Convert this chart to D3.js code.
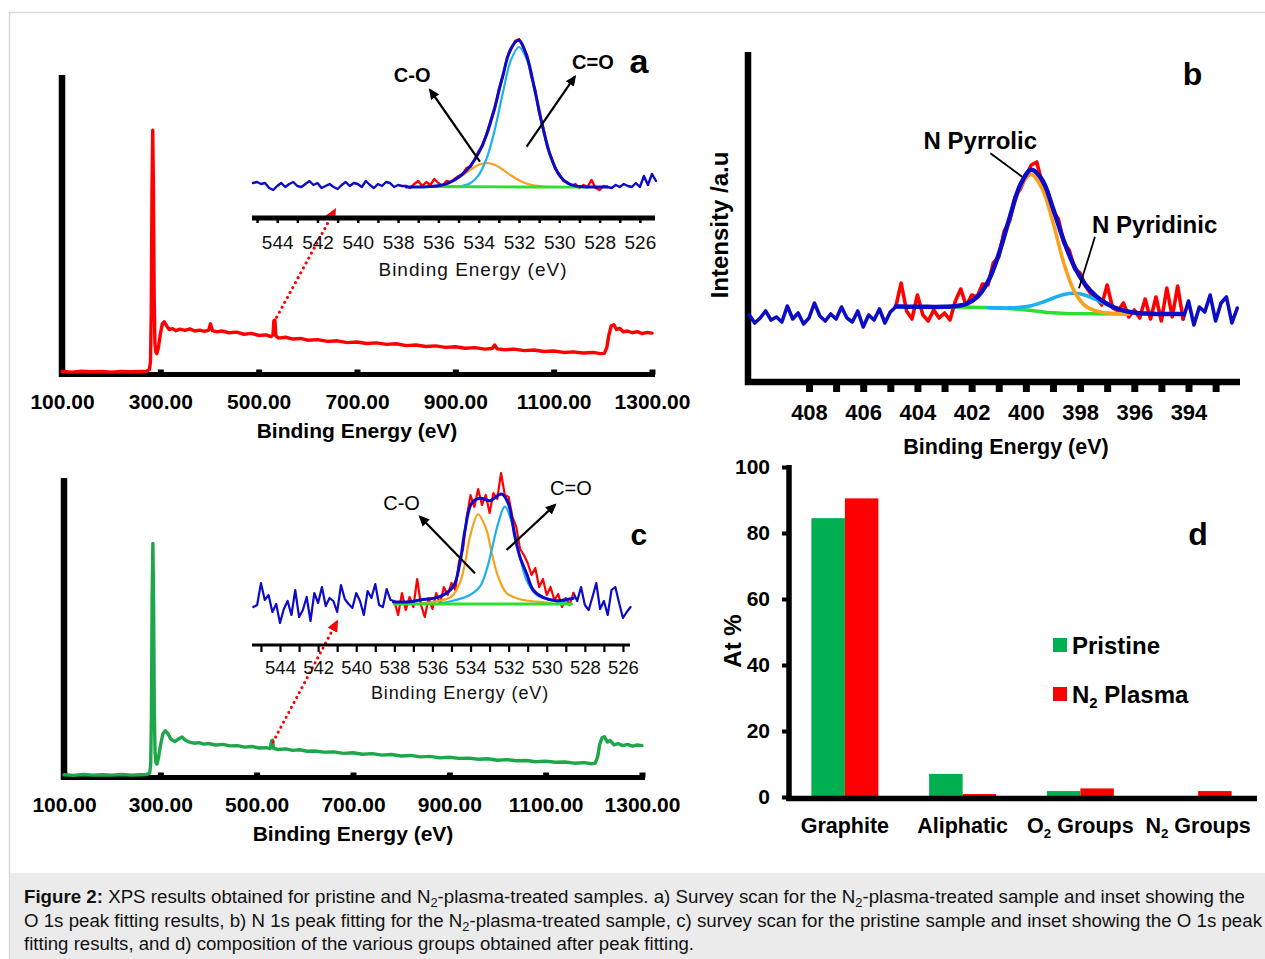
<!DOCTYPE html>
<html><head><meta charset="utf-8">
<script src="https://cdn.jsdelivr.net/npm/d3@7"></script>
<style>body{margin:0;background:#fff}svg{display:block}</style>
</head><body><svg id="fig" width="1265" height="959"></svg>
<script>
// ---------------- DATA ----------------
const surveyTicks = [100,300,500,700,900,1100,1300];
const insetTicks = [544,542,540,538,536,534,532,530,528,526];
const insetMinorTicks = [545,544,543,542,541,540,539,538,537,536,535,534,533,532,531,530,529,528,527,526];
const bTicks = [408,407,406,405,404,403,402,401,400,399,398,397,396,395,394,393];
const bLabels = [408,406,404,402,400,398,396,394];
const dTicks = [0,20,40,60,80,100];

// Panel a: survey scan, N2-plasma sample [eV, intensity]
const surveyA = [[100,0.5],[120,0.3],[140,0.6],[160,0.4],[180,0.5],[200,0.3],[220,0.5],[240,0.4],[260,0.5],[272,0.6],[278,1.2],[280,4],[281.5,20],[283,60],[284.5,81.5],[286,62],[287.5,25],[289,10],[291,7],[293,6.5],[296,8.5],[300,13],[304,16.5],[308,17.2],[313,15.8],[318,14.6],[325,14.9],[332,14.2],[340,14.7],[350,14.3],[360,14.8],[370,14.1],[380,14.4],[390,14.0],[398,14.3],[402,16.5],[406,14.2],[415,13.8],[425,14.1],[440,13.5],[455,13.7],[470,13.0],[485,13.3],[500,12.6],[515,12.8],[525,12.2],[529,12.8],[531,17.5],[533,17.8],[535,12.5],[540,11.7],[555,12.0],[570,11.4],[585,11.6],[600,11.0],[620,11.2],[640,10.6],[660,10.8],[680,10.2],[700,10.4],[720,9.9],[740,10.1],[760,9.6],[780,9.8],[800,9.2],[820,9.4],[840,8.9],[860,9.1],[880,8.6],[900,8.8],[920,8.3],[940,8.5],[960,8.0],[975,8.2],[980,9.4],[985,8.1],[1000,7.8],[1020,8.0],[1040,7.5],[1060,7.7],[1080,7.2],[1100,7.4],[1120,6.9],[1140,7.1],[1160,6.7],[1180,6.9],[1195,6.5],[1203,6.6],[1208,8.5],[1212,12.5],[1217,15.8],[1222,16.2],[1228,14.6],[1234,15.0],[1242,13.8],[1250,14.1],[1260,13.5],[1270,13.9],[1280,13.2],[1290,13.6],[1300,13.4]];

// Panel c: survey scan, pristine sample
const surveyC = [[100,0.4],[120,0.2],[140,0.5],[160,0.3],[180,0.4],[200,0.3],[220,0.5],[240,0.3],[260,0.4],[272,0.5],[278,1.0],[280,4],[281.5,20],[283,60],[284.5,78],[286,58],[287.5,22],[289,8],[291,4.5],[293,4],[296,6],[300,10],[305,14],[310,15.2],[316,14.2],[322,12.3],[330,11.6],[338,12.4],[345,13.1],[352,12.0],[360,11.4],[370,11.0],[380,11.2],[390,10.7],[400,10.9],[415,10.4],[430,10.6],[445,10.1],[460,10.2],[475,9.7],[490,9.9],[505,9.4],[520,9.5],[528,9.2],[531,11.8],[533,12.0],[535,9.3],[545,8.9],[560,9.1],[575,8.6],[590,8.8],[605,8.3],[620,8.4],[640,8.0],[660,8.1],[680,7.6],[700,7.8],[720,7.3],[740,7.5],[760,7.0],[780,7.2],[800,6.7],[820,6.9],[840,6.4],[860,6.6],[880,6.1],[900,6.3],[920,5.9],[940,6.0],[960,5.6],[980,5.8],[1000,5.3],[1020,5.5],[1040,5.1],[1060,5.2],[1080,4.8],[1100,5.0],[1120,4.6],[1140,4.7],[1160,4.3],[1180,4.5],[1195,4.1],[1203,4.3],[1208,6.5],[1212,10.5],[1217,12.8],[1222,13.2],[1228,11.4],[1234,11.9],[1242,10.4],[1250,10.9],[1260,10.2],[1270,10.6],[1280,10.0],[1290,10.4],[1300,10.2]];

// Inset a: O 1s (N2 plasma). Raw counts from 545.2 eV downward in 0.2 eV steps
const rawA_start = 545.2, rawA_step = 0.2, rawA_window = [537.6, 527.6];
const rawA = [34,35,33,34,29,27,31,34,30,33,35,31,30,33,36,32,34,29,31,33,30,28,32,35,31,34,33,30,36,32,29,33,31,35,34,30,32,31,
  31,29,33,36,31,35,32,38,34,31,36,35,38,41,43,49,50,58,66,71,84,97,108,128,140,159,167,176,178,170,162,141,128,104,90,70,60,48,43,36,35,31,33,29,32,30,37,29,27,31,30,
  29,32,30,33,31,30,34,30,41,32,43,36];
const envA = [[537.6,30],[537.2,30],[536.8,30.1],[536.4,30.5],[536.0,31.3],[535.6,33.2],[535.2,37.0],[534.8,42.8],[534.4,51.4],[534.0,64.1],[533.6,82.8],[533.2,109.7],[532.8,141.6],[532.4,168.5],[532.0,176.7],[531.6,160.0],[531.2,125.5],[530.8,88.0],[530.4,58.9],[530.0,41.9],[529.6,34.0],[529.2,31.1],[528.8,30.3],[528.4,30],[528.0,30],[527.6,30]];
const coA = [[536.0,31.3],[535.6,33.2],[535.2,36.7],[534.8,41.7],[534.4,47.4],[534.0,52.2],[533.6,54],[533.2,52.2],[532.8,47.4],[532.4,41.7],[532.0,36.7],[531.6,33.2],[531.2,31.3],[530.8,30.5],[530.4,30.1],[530.0,30]];
const ceoA = [[535.6,30],[535.2,30.3],[534.8,31.1],[534.4,34.0],[534.0,41.9],[533.6,58.8],[533.2,87.5],[532.8,124.2],[532.4,156.8],[532.0,170],[531.6,156.8],[531.2,124.2],[530.8,87.5],[530.4,58.8],[530.0,41.9],[529.6,34.0],[529.2,31.1],[528.8,30.3]];
const baseA = [[536.2,30.5],[532.0,30],[528.6,29.8]];

// Panel b: N 1s (N2 plasma). Raw counts from 410.2 eV downward in 0.2 eV steps
const rawB_start = 410.2, rawB_step = 0.2, rawB_window = [404.8, 394.2];
const rawB = [66,58,63,70,61,64,59,75,62,68,57,63,78,65,60,67,62,74,63,59,70,54,66,61,72,58,69,
  74,98,70,62,86,66,60,71,63,68,61,80,92,75,86,84,97,96,118,124,150,160,184,192,205,216,219,198,190,170,162,138,131,112,108,95,87,83,76,96,73,70,78,64,71,63,82,62,84,60,93,64,95,62,
  80,56,74,69,86,60,78,84,58,73];
const envB = [[404.8,74.5],[404.6,74.4],[404.2,74.3],[403.8,74.2],[403.4,74.1],[403.0,74.2],[402.6,74.8],[402.2,77.0],[401.8,83.8],[401.4,99.2],[401.0,126.8],[400.6,163.1],[400.2,196.4],[399.8,211.3],[399.4,201.3],[399.0,172.8],[398.6,140.2],[398.2,113.8],[397.8,96.1],[397.4,84.6],[397.0,77.1],[396.6,72.1],[396.2,69.2],[395.8,67.8],[395.4,67.3],[395.0,67],[394.6,67],[394.2,67]];
const pyrrolicB = [[403.0,74.2],[402.6,74.8],[402.2,77.0],[401.8,83.8],[401.4,99.2],[401.0,126.5],[400.6,162.3],[400.2,194.2],[399.8,206.5],[399.4,192.3],[399.0,158.8],[398.6,118],[398.2,89],[397.8,75],[397.4,70.0],[397.0,68.1],[396.6,67.3],[396.2,67.0]];
const pyridinicB = [[401.4,73.2],[401.0,73.1],[400.6,73.1],[400.2,73.7],[399.8,75.3],[399.4,78.6],[399.0,82.8],[398.6,86.5],[398.2,87.8],[397.8,85.8],[397.4,81.3],[397.0,76.2],[396.6,71.9],[396.2,69.2],[395.8,67.8],[395.4,67.3]];
const baseB = [[404.8,74.3],[402.5,74],[401.5,73.5],[400.5,72.3],[399.8,70.5],[399.2,68.6],[398.5,67.6],[397.5,67.2],[396.2,67]];

// Inset c: O 1s (pristine). Raw counts from 545.4 eV downward in 0.2 eV steps
const rawC_start = 545.4, rawC_step = 0.2, rawC_window = [538.0, 528.6];
const rawC = [38,40,62,45,50,33,41,22,36,44,30,55,28,35,48,24,52,42,58,39,47,44,33,60,46,41,37,52,44,30,54,47,61,40,38,56,45,
  44,30,52,35,48,38,66,40,28,47,36,52,41,58,50,62,55,84,95,128,150,138,156,140,150,132,152,146,172,150,148,128,118,96,90,82,70,77,58,66,50,58,45,51,38,47,40,52,
  44,58,40,35,48,62,36,44,30,55,58,42,27,33,38];
const envC = [[538.05,43],[537.2,43.3],[536.65,45],[535.61,48.3],[534.91,58.3],[534.56,81.7],[534.29,115],[533.94,141.7],[533.51,146.7],[532.98,144.3],[532.37,151],[532.02,141.7],[531.67,108.3],[531.41,88.3],[531.06,71.7],[530.71,55],[530.19,47.7],[529.48,44.3],[528.61,46.7]];
const coC = [[536.5,42],[535.61,44.3],[535.0,48.3],[534.56,62],[534.29,81.7],[534.03,108.3],[533.6,130.7],[533.16,115],[532.89,92],[532.55,68.3],[532.11,52],[531.41,45.7],[530.53,43.3],[529.8,42]];
const ceoC = [[535.6,42],[534.91,44.3],[534.03,50],[533.51,58.3],[533.16,75],[532.89,95],[532.55,121.7],[532.2,138.3],[531.76,118.3],[531.41,88.3],[531.06,65],[530.53,50],[529.66,44.3],[529.0,42]];
const baseC = [[538.0,41],[528.7,41]];

// Panel d: composition
const categories = ["Graphite","Aliphatic","O2 Groups","N2 Groups"];
const seriesNames = ["Pristine","N2 Plasma"];
const pristine = [84.5, 7.0, 1.8, 0];
const plasma = [90.5, 0.9, 2.6, 1.8];

// ---------------- DRAWING ----------------
const FONT = '"Liberation Sans", Arial, Helvetica, sans-serif';
const COL = {red:"#ff0000", navy:"#0b0bc8", orange:"#f9a11b", sky:"#1cb0ec", lime:"#2ee02e",
             survGreen:"#1ea64b", barGreen:"#00b050", barRed:"#ff0000"};
const svg = d3.select("#fig").attr("font-family", FONT);

svg.append("rect").attr("width",1265).attr("height",959).attr("fill","#fff");
svg.append("path").attr("d","M9.5,959V12.5H1265").attr("fill","none").attr("stroke","#d9d9d9").attr("stroke-width",1.5);
svg.append("rect").attr("x",10).attr("y",873).attr("width",1255).attr("height",86).attr("fill","#ebebeb");

const defs = svg.append("defs");
function marker(id, color, size) {
  defs.append("marker").attr("id",id).attr("viewBox","0 0 10 10").attr("refX",8).attr("refY",5)
    .attr("markerWidth",size).attr("markerHeight",size).attr("markerUnits","userSpaceOnUse").attr("orient","auto")
    .append("path").attr("d","M0,0.5L10,5L0,9.5z").attr("fill",color);
}
marker("ahk","#000",11); marker("ahr","#ff0000",12);

function drawLine(g, pts, sx, sy, color, w, curve) {
  return g.append("path").datum(pts)
    .attr("fill","none").attr("stroke",color).attr("stroke-width",w)
    .attr("stroke-linejoin","round").attr("stroke-linecap","round")
    .attr("d", d3.line().x(d=>sx(d[0])).y(d=>sy(d[1])).curve(curve || d3.curveLinear));
}
function rawPoints(start, step, vals) { return vals.map((v,i)=>[+(start - i*step).toFixed(3), v]); }
function seg(pts, hi, lo) { return pts.filter(d => d[0] <= hi + 1e-6 && d[0] >= lo - 1e-6); }
function drawRaw(g, start, step, vals, win, sx, sy, w) {
  const pts = rawPoints(start, step, vals);
  drawLine(g, seg(pts, 1e9, win[0]), sx, sy, COL.navy, w);
  drawLine(g, seg(pts, win[1], -1e9), sx, sy, COL.navy, w);
  drawLine(g, seg(pts, win[0], win[1]), sx, sy, COL.red, w);
}
function arrow(g, sx, sy, a, color, w, mk, dash) {
  const l = g.append("line").attr("x1",sx(a[0][0])).attr("y1",sy(a[0][1])).attr("x2",sx(a[1][0])).attr("y2",sy(a[1][1]))
    .attr("stroke",color).attr("stroke-width",w);
  if (mk) l.attr("marker-end",`url(#${mk})`);
  if (dash) l.attr("stroke-dasharray",dash).attr("stroke-linecap","round");
  return l;
}
function text(g, x, y, s, size, weight, anchor) {
  return g.append("text").attr("x",x).attr("y",y).attr("font-size",size).attr("font-weight",weight||"bold")
    .attr("text-anchor",anchor||"middle").attr("fill","#000").text(s);
}
function subText(g, x, y, label, size, anchor) {
  const m = label.match(/^([A-Z])2(.*)$/);
  const t = g.append("text").attr("x",x).attr("y",y).attr("font-size",size).attr("font-weight","bold")
    .attr("text-anchor",anchor||"middle").attr("fill","#000");
  if (!m) { t.text(label); return t; }
  t.append("tspan").text(m[1]);
  t.append("tspan").attr("font-size",size*0.62).attr("dy",size*0.22).text("2");
  t.append("tspan").attr("dy",-size*0.22).text(m[2]);
  return t;
}
function bottomAxis(g, scale, y, ticks, o) {
  const ax = d3.axisBottom(scale).tickValues(ticks).tickSizeOuter(0).tickSize(o.tickSize)
    .tickPadding(o.pad).tickFormat(o.fmt);
  const a = g.append("g").attr("transform",`translate(0,${y})`).call(ax);
  a.attr("font-family",FONT).attr("font-size",o.fs).attr("font-weight",o.fw);
  a.select(".domain").remove();
  a.selectAll(".tick line").attr("stroke","#000").attr("stroke-width",o.tw);
  a.selectAll(".tick text").attr("fill", o.color || "#000");
  return a;
}
function hline(g, x1, x2, y, w) { g.append("line").attr("x1",x1).attr("x2",x2).attr("y1",y).attr("y2",y).attr("stroke","#000").attr("stroke-width",w); }
function vline(g, x, y1, y2, w) { g.append("line").attr("x1",x).attr("x2",x).attr("y1",y1).attr("y2",y2).attr("stroke","#000").attr("stroke-width",w); }

// ===== Panel a =====
const xA = d3.scaleLinear([100,1300],[62,652]);
const yA = d3.scaleLinear([0,100],[373,75]);
const gA = svg.append("g");
vline(gA, xA(100), yA(100), 377, 6.5);
hline(gA, 59, 655, 374.5, 5);
bottomAxis(gA, xA, 374.5, surveyTicks, {tickSize:-5, pad:19.5, fmt:d=>d.toFixed(2), fs:21, fw:"bold", tw:6});
text(gA, 357, 438, "Binding Energy (eV)", 21);
drawLine(gA, surveyA, xA, yA, COL.red, 3.4);
arrow(gA, xA, yA, [[531.2,17.1],[655,54.7]], COL.red, 3, "ahr", "0.1,5.5");

// inset a
const xIA = d3.scaleLinear([545.25,525.25],[252,655]);
const yIA = d3.scaleLinear([0,180],[217,37]);
const gIA = svg.append("g");
hline(gIA, xIA(545.25), xIA(525.25), 218, 5);
bottomAxis(gIA, xIA, 218, insetMinorTicks, {tickSize:5, pad:12.5, fmt:d=>insetTicks.includes(d)?d:"", fs:19, fw:"normal", tw:2.5, color:"#111"});
text(gIA, 473, 276, "Binding Energy (eV)", 19, "normal").attr("letter-spacing",1).attr("fill","#111");
drawRaw(gIA, rawA_start, rawA_step, rawA, rawA_window, xIA, yIA, 2.4);
drawLine(gIA, coA, xIA, yIA, COL.orange, 2.2, d3.curveCatmullRom);
drawLine(gIA, ceoA, xIA, yIA, COL.sky, 2.2, d3.curveCatmullRom);
drawLine(gIA, baseA, xIA, yIA, COL.lime, 2.8);
drawLine(gIA, envA, xIA, yIA, COL.navy, 3, d3.curveCatmullRom);
arrow(gIA, xIA, yIA, [[533.94,55.3],[536.41,127]], "#000", 2.2, "ahk");
arrow(gIA, xIA, yIA, [[531.62,70.3],[529.23,140.3]], "#000", 2.2, "ahk");
text(gIA, xIA(537.3), yIA(135.5), "C-O", 20);
text(gIA, xIA(528.33), yIA(148.5), "C=O", 20);
text(gIA, xIA(526.05), yIA(144), "a", 34);

// ===== Panel b =====
const xB = d3.scaleLinear([410.25,392.1],[748,1240]);
const yB = d3.scaleLinear([0,330],[381,51]);
const gB = svg.append("g");
vline(gB, 748, 52, 385, 6.5);
hline(gB, 745, 1240, 382, 6.5);
bottomAxis(gB, xB, 382, bTicks, {tickSize:10, pad:12.5, fmt:d=>bLabels.includes(d)?d:"", fs:22, fw:"bold", tw:7});
text(gB, 1006, 454, "Binding Energy (eV)", 21.5);
text(gB, 0, 0, "Intensity /a.u", 24).attr("transform","translate(728,225) rotate(-90)");
drawRaw(gB, rawB_start, rawB_step, rawB, rawB_window, xB, yB, 3.6);
drawLine(gB, baseB, xB, yB, COL.lime, 3.5);
drawLine(gB, pyridinicB, xB, yB, COL.sky, 3.6, d3.curveCatmullRom);
drawLine(gB, pyrrolicB, xB, yB, COL.orange, 3.6, d3.curveCatmullRom);
drawLine(gB, envB, xB, yB, COL.navy, 4.5, d3.curveCatmullRom);
arrow(gB, xB, yB, [[401.31,227.7],[400.14,204.3]], "#000", 1.8);
arrow(gB, xB, yB, [[397.45,144.3],[398.04,92.7]], "#000", 1.8);
text(gB, xB(401.68), yB(232), "N Pyrrolic", 24);
text(gB, xB(395.25), yB(148), "N Pyridinic", 24);
text(gB, xB(393.85), yB(296), "b", 32);

// ===== Panel c =====
const xC = d3.scaleLinear([100,1300],[64,642]);
const yC = d3.scaleLinear([0,100],[776,478]);
const gC = svg.append("g");
vline(gC, xC(100), 478, 780, 6.5);
hline(gC, 61, 645, 777.5, 5);
bottomAxis(gC, xC, 777.5, surveyTicks, {tickSize:-5, pad:19.5, fmt:d=>d.toFixed(2), fs:21, fw:"bold", tw:6});
text(gC, 353, 841, "Binding Energy (eV)", 21);
drawLine(gC, surveyC, xC, yC, COL.survGreen, 3.4);
arrow(gC, xC, yC, [[533.9,11.4],[666.7,51.8]], COL.red, 3, "ahr", "0.1,5.5");

// inset c
const xIC = d3.scaleLinear([545.47,525.63],[252,630]);
const yIC = d3.scaleLinear([0,180],[645,465]);
const gIC = svg.append("g");
hline(gIC, xIC(545.47), xIC(525.63), 645, 3.2);
bottomAxis(gIC, xIC, 645, insetMinorTicks, {tickSize:7, pad:9, fmt:d=>insetTicks.includes(d)?d:"", fs:18.5, fw:"normal", tw:2.2, color:"#111"});
text(gIC, 460, 699, "Binding Energy (eV)", 18, "normal").attr("letter-spacing",0.9).attr("fill","#111");
drawRaw(gIC, rawC_start, rawC_step, rawC, rawC_window, xIC, yIC, 2.2);
drawLine(gIC, coC, xIC, yIC, COL.orange, 2.2, d3.curveCatmullRom);
drawLine(gIC, ceoC, xIC, yIC, COL.sky, 2.2, d3.curveCatmullRom);
drawLine(gIC, baseC, xIC, yIC, COL.lime, 3);
drawLine(gIC, envC, xIC, yIC, COL.navy, 3, d3.curveCatmullRom);
arrow(gIC, xIC, yIC, [[533.77,71.7],[536.65,128.3]], "#000", 2.2, "ahk");
arrow(gIC, xIC, yIC, [[532.11,95],[529.57,140]], "#000", 2.2, "ahk");
text(gIC, xIC(537.62), yIC(135), "C-O", 20, "normal");
text(gIC, xIC(528.73), yIC(150), "C=O", 20, "normal");
text(gIC, xIC(525.17), yIC(100), "c", 30);

// ===== Panel d =====
const xD = d3.scaleBand(categories,[786,1257]).paddingInner(0.431).paddingOuter(0.2155);
const xS = d3.scaleBand(seriesNames,[0,xD.bandwidth()]);
const yD = d3.scaleLinear([0,100],[797,467]);
const gD = svg.append("g");
const barData = categories.map((c,i)=>[{c, s:seriesNames[0], v:pristine[i]},{c, s:seriesNames[1], v:plasma[i]}]).flat();
gD.selectAll("rect.bar").data(barData).join("rect").attr("class","bar")
  .attr("x",d=>xD(d.c)+xS(d.s)).attr("width",xS.bandwidth())
  .attr("y",d=>yD(d.v)).attr("height",d=>yD(0)-yD(d.v))
  .attr("fill",d=>d.s===seriesNames[0]?COL.barGreen:COL.barRed);
const axL = d3.axisLeft(yD).tickValues(dTicks).tickSize(7).tickPadding(12).tickSizeOuter(0);
const aL = gD.append("g").attr("transform","translate(789,0)").call(axL);
aL.attr("font-family",FONT).attr("font-size",21).attr("font-weight","bold");
aL.select(".domain").remove();
aL.selectAll(".tick line").attr("stroke","#000").attr("stroke-width",4);
aL.selectAll(".tick text").attr("fill","#000");
vline(gD, 789, 465, 801, 5.5);
hline(gD, 786.5, 1257, 798.5, 5.5);
categories.forEach(c => subText(gD, xD(c)+xD.bandwidth()/2, 833, c, 21.5));
text(gD, 0, 0, "At %", 24).attr("transform","translate(741,641) rotate(-90)");
text(gD, 1198, 545, "d", 32);
seriesNames.forEach((s,i) => {
  gD.append("rect").attr("x",1053).attr("y",638+i*49).attr("width",14).attr("height",14)
    .attr("fill", i===0?COL.barGreen:COL.barRed);
  subText(gD, 1072, 654+i*49, s, 24, "start");
});

// ===== Caption =====
const cap = svg.append("g").attr("font-size",17.5).attr("fill","#111");
function capLine(y, parts, len) {
  const t = cap.append("text").attr("x",24).attr("y",y).attr("textLength",len).attr("lengthAdjust","spacingAndGlyphs");
  let lowered = false;
  parts.forEach(p => {
    const s = t.append("tspan").text(p.t);
    if (p.b) s.attr("font-weight","bold");
    if (p.sub) { s.attr("font-size",12).attr("dy",4); lowered = true; }
    else if (lowered) { s.attr("dy",-4); lowered = false; }
  });
}
capLine(903, [{t:"Figure 2:",b:true},{t:" XPS results obtained for pristine and N"},{t:"2",sub:true},{t:"-plasma-treated samples. a) Survey scan for the N"},{t:"2",sub:true},{t:"-plasma-treated sample and inset showing the"}], 1221);
capLine(926.5, [{t:"O 1s peak fitting results, b) N 1s peak fitting for the N"},{t:"2",sub:true},{t:"-plasma-treated sample, c) survey scan for the pristine sample and inset showing the O 1s peak"}], 1238);
capLine(950, [{t:"fitting results, and d) composition of the various groups obtained after peak fitting."}], 670);
</script></body></html>
